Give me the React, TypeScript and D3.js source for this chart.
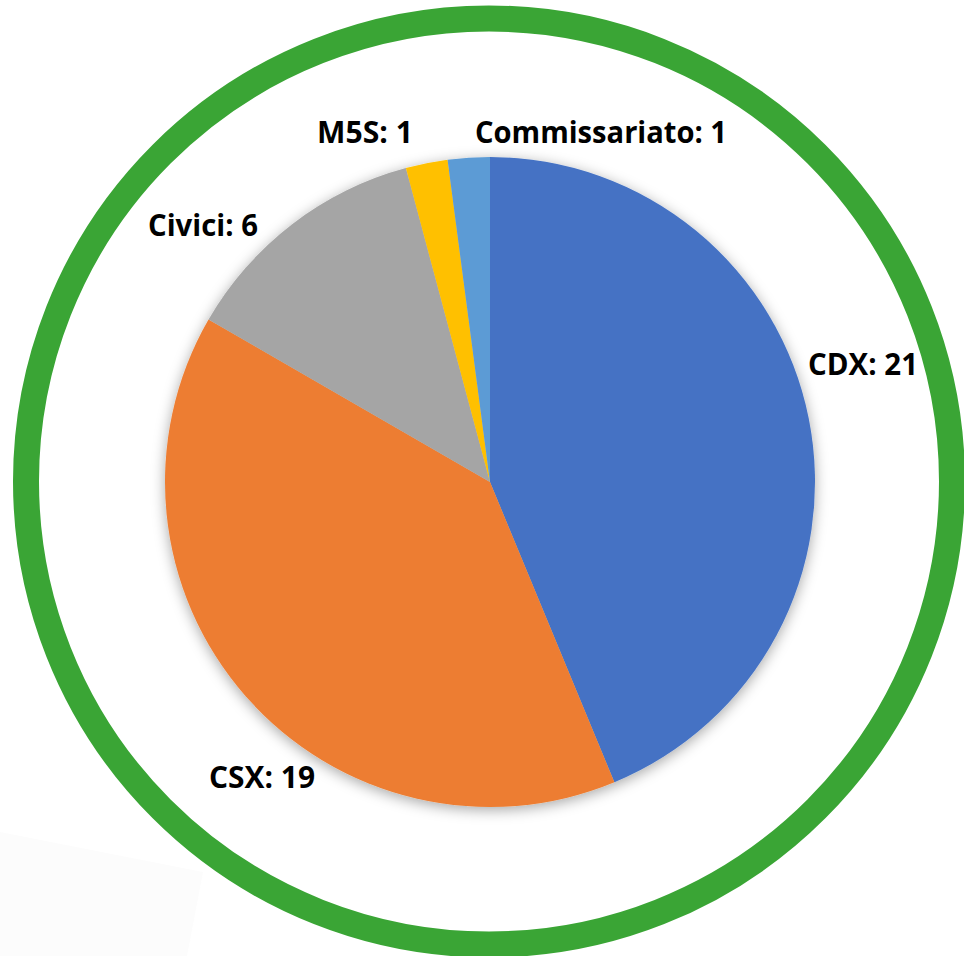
import React from "react";
import * as d3 from "d3";

const categories = ["CDX", "CSX", "Civici", "M5S", "Commissariato"];
const values = [21, 19, 6, 1, 1];
const colors = ["#4472C4", "#ED7D31", "#A5A5A5", "#FFC000", "#5B9BD5"];
// label layout (centre x, baseline y, text width)
const labelLayout = [
  [863, 375, 110],
  [262, 788, 106],
  [203, 236, 110],
  [365, 143, 96],
  [601, 143, 252],
];

const W = 964;
const H = 956;
const cx = 490;
const cy = 482;
const R = 325;

export default function App() {
  const pie = d3.pie<number>().sort(null).value((d) => d)(values);
  const arc = d3.arc<d3.PieArcDatum<number>>().innerRadius(0).outerRadius(R);
  return (
    <svg
      width={W}
      height={H}
      style={{ position: "absolute", left: 0, top: 0, background: "#fff" }}
    >
      <defs>
        <filter id="sh" x="-20%" y="-20%" width="140%" height="140%">
          <feDropShadow dx="0" dy="3" stdDeviation="7" floodColor="#000" floodOpacity="0.35" />
        </filter>
      </defs>
      <polygon points="0,832 203,872 187,956 0,956" fill="#fcfcfc" />
      <circle cx={489} cy={481.5} r={463} fill="none" stroke="#3AA535" strokeWidth={26} />
      <g transform={`translate(${cx},${cy})`} filter="url(#sh)">
        {pie.map((p, i) => (
          <path key={i} d={arc(p) || ""} fill={colors[i]} />
        ))}
      </g>
      {categories.map((c, i) => (
        <text
          key={c}
          x={labelLayout[i][0]}
          y={labelLayout[i][1]}
          textAnchor="middle"
          fontFamily="'Open Sans', sans-serif"
          fontWeight="bold"
          fontSize={31}
          textLength={labelLayout[i][2]}
          lengthAdjust="spacingAndGlyphs"
          fill="#000"
        >
          {`${c}: ${values[i]}`}
        </text>
      ))}
    </svg>
  );
}
